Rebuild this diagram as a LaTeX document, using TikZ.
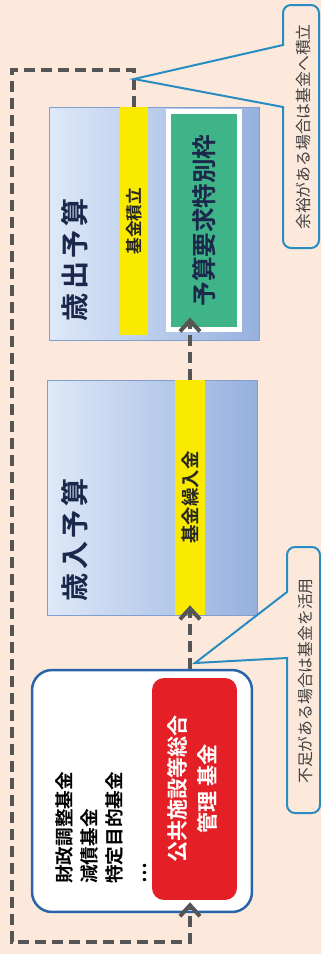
\documentclass[tikz,border=0pt]{standalone}
\usepackage{fontspec}
\setmainfont{Noto Sans CJK JP}[BoldFont={Noto Sans CJK JP Bold}]
\usepackage{graphicx}
\usetikzlibrary{arrows.meta}

\definecolor{haikei}{RGB}{252,233,220}
\definecolor{usuao}{RGB}{222,233,248}
\definecolor{koiao}{RGB}{150,176,222}
\definecolor{wakusen}{RGB}{130,158,205}
\definecolor{kiiro}{RGB}{250,234,0}
\definecolor{midori}{RGB}{62,180,136}
\definecolor{aka}{RGB}{228,32,38}
\definecolor{kon}{RGB}{28,40,75}
\definecolor{hai}{RGB}{85,85,85}
\definecolor{sen}{RGB}{40,140,195}
\definecolor{fundsen}{RGB}{40,100,170}

\newcommand{\tate}[1]{\rotatebox{90}{#1}}

\begin{document}
\begin{tikzpicture}[x=0.02cm, y=-0.02cm,
  yosan/.style={draw=wakusen, line width=0.5pt, shading=axis, left color=usuao, right color=koiao, minimum width=4.2cm, inner sep=0pt},
  obi/.style={fill=kiiro, inner sep=0pt, text=black!85},
  tensen/.style={draw=hai, line width=0.08cm, dash pattern=on 0.22cm off 0.12cm},
  yaji/.style={tensen, -{Straight Barb[length=0.22cm, width=0.4cm]}},
  fukidashi/.style={draw=sen, line width=0.04cm},
  midashi/.style={inner sep=0pt, text=kon, font=\fontsize{16}{16}\selectfont\bfseries\addfontfeature{LetterSpace=12}},
  chuki/.style={inner sep=0pt, text=black!75, font=\fontsize{9}{9}\selectfont}]

  % 背景
  \fill[haikei] (0,0) rectangle (321,954);
  \useasboundingbox (0,0) rectangle (321,954);

  % 歳出予算
  \node[yosan, minimum height=4.66cm] (out) at (154,223.5) {};
  \node[obi, minimum width=0.56cm, minimum height=4.56cm] (outbar) at (134,221) {\tate{\fontsize{9.5}{10}\selectfont\bfseries 基金積立}};
  \node[fill=midori, draw=white, line width=0.1cm, minimum width=1.44cm, minimum height=4.38cm, inner sep=0pt, text=kon] (waku) at (204,220.5) {\tate{\fontsize{14}{14}\selectfont\bfseries 予算要求特別枠}};
  \node[midashi] (outtitle) at (75,260) {\tate{歳出予算}};

  % 歳入予算
  \node[yosan, minimum height=4.7cm] (in) at (152,497.5) {};
  \node[obi, minimum width=0.6cm, minimum height=4.7cm] (inbar) at (190,497.5) {\tate{\fontsize{10.5}{11}\selectfont\bfseries 基金繰入金}};
  \node[midashi] (intitle) at (75,540) {\tate{歳入予算}};

  % 基金
  \node[draw=fundsen, line width=0.05cm, fill=white, rounded corners=0.4cm, minimum width=4.4cm, minimum height=4.84cm] (fund) at (142,791) {};
  \node[fill=aka, rounded corners=0.24cm, minimum width=1.7cm, minimum height=4.44cm, inner sep=0pt, text=white] (red) at (194.5,789) {\tate{\fontsize{12}{17}\selectfont\bfseries\begin{tabular}{@{}c@{}}公共施設等総合\\管理 基金\end{tabular}}};
  \node[anchor=south west, inner sep=0pt] (list) at (54,884) {\tate{\fontsize{10.6}{14.2}\selectfont\bfseries\begin{tabular}{@{}l@{}}財政調整基金\\減債基金\\特定目的基金\\…\end{tabular}}};

  % 矢印
  \coordinate (kado1) at (12,70);
  \coordinate (kado2) at (12,942);
  \draw[yaji, shorten >=-0.22cm] (outbar.north) |- (kado1) -- (kado2) -| (inbar.south |- fund.south);
  \draw[yaji, shorten >=-0.2cm] (inbar.south |- fund.north) -- (inbar.south);
  \draw[yaji, shorten >=-0.3cm] (inbar.north) -- (inbar.north |- waku.south);

  % 吹き出し
  \coordinate (sentan1) at (134,79);
  \coordinate (sentan2) at (195,663);
  \draw[fukidashi] (sentan1) -- (283,45) [rounded corners=0.16cm] -- (283,5) -- (319,5) -- (319,248) -- (283,248) [sharp corners] -- (283,107) -- cycle;
  \node[chuki] (note1) at (303,127) {\tate{余裕がある場合は基金へ積立}};
  \draw[fukidashi] (sentan2) -- (287,592) [rounded corners=0.16cm] -- (287,547) -- (320,547) -- (320,813) -- (287,813) [sharp corners] -- (287,658) -- cycle;
  \node[chuki] (note2) at (305,681) {\tate{不足がある場合は基金を活用}};
\end{tikzpicture}
\end{document}
